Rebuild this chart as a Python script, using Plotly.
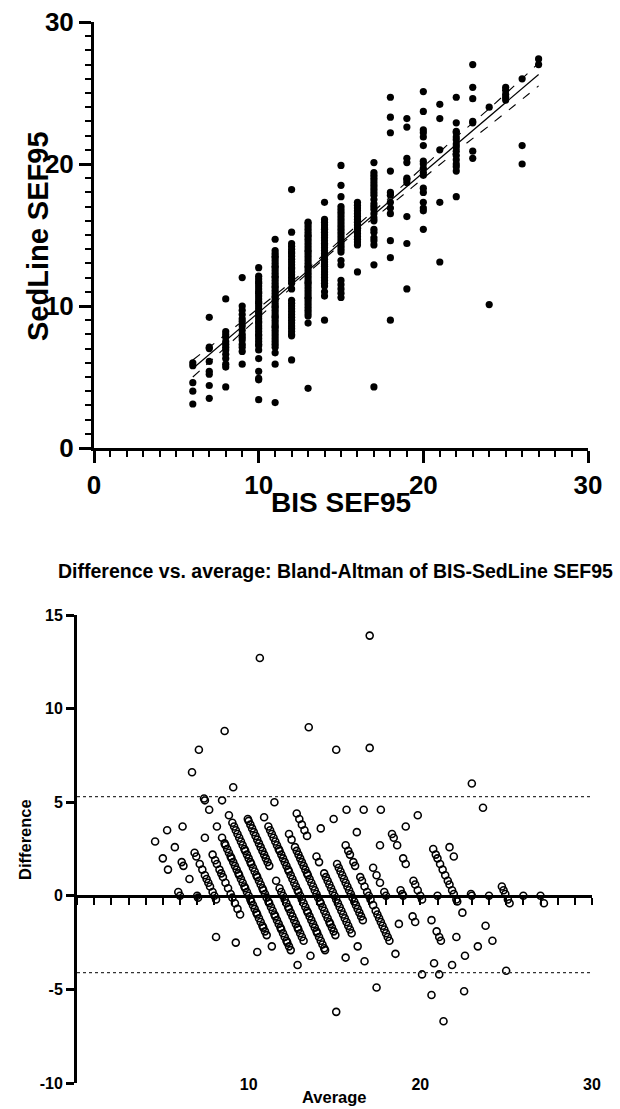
import numpy as np
import plotly.graph_objects as go

# ---- Data (BIS SEF95 column -> SedLine SEF95 values) ----
sed_bis06 = [6.0, 5.8, 4.6, 4.0, 3.1]
sed_bis07 = [9.2, 7.1, 7.0, 6.1, 5.4, 5.2, 4.4, 3.5]
sed_bis08 = [10.5, 8.2, 8.0, 7.8, 7.5, 7.3, 7.1, 6.9, 6.6, 6.3, 5.9, 5.7, 4.3]
sed_bis09 = [12.0, 10.0, 9.7, 9.4, 9.1, 8.9, 8.6, 8.3, 8.0, 7.8, 7.6, 7.3, 7.1, 6.8, 5.9]
sed_bis10 = [12.7, 12.1, 11.9, 11.7, 11.6, 11.4, 11.2, 11.0, 10.9, 10.7, 10.5, 10.3, 10.2,
             10.0, 9.8, 9.6, 9.5, 9.3, 9.1, 8.9, 8.8, 8.6, 8.4, 8.2, 8.0, 7.9, 7.7, 7.5,
             7.3, 7.2, 6.9, 6.3, 5.4, 4.9, 4.8, 3.4]
sed_bis11 = [14.7, 13.9, 13.7, 13.5, 13.4, 13.2, 13.0, 12.8, 12.7, 12.5, 12.3, 12.1, 12.0,
             11.8, 11.6, 11.4, 11.3, 11.1, 10.9, 10.7, 10.6, 10.4, 10.2, 10.0, 9.9, 9.7,
             9.5, 9.3, 9.2, 9.0, 8.8, 8.6, 8.5, 8.3, 8.1, 7.9, 7.7, 7.5, 7.3, 7.1, 6.7,
             5.9, 3.2]
sed_bis12 = [18.2, 15.2, 14.4, 14.2, 14.0, 13.8, 13.7, 13.5, 13.3, 13.1, 12.9, 12.7, 12.6,
             12.4, 12.2, 12.0, 11.8, 11.6, 11.2, 10.4, 10.2, 10.0, 9.8, 9.6, 9.4, 9.2,
             9.0, 8.8, 8.6, 8.4, 8.2, 8.0, 7.9, 6.2]
sed_bis13 = [15.9, 15.8, 15.6, 15.4, 15.2, 15.0, 14.9, 14.7, 14.5, 14.3, 14.1, 13.9, 13.8,
             13.6, 13.4, 13.2, 13.0, 12.8, 12.7, 12.5, 12.3, 12.1, 11.9, 11.7, 11.6, 11.4,
             11.2, 11.0, 10.8, 10.6, 10.5, 10.3, 10.1, 9.9, 9.7, 9.5, 9.3, 8.8, 4.2]
sed_bis14 = [17.3, 16.1, 15.9, 15.7, 15.5, 15.4, 15.2, 15.0, 14.8, 14.6, 14.4, 14.3, 14.1,
             13.9, 13.7, 13.5, 13.3, 13.1, 12.9, 12.8, 12.6, 12.4, 12.2, 12.0, 11.8, 11.6,
             11.4, 11.0, 10.7, 9.0]
sed_bis15 = [19.9, 18.5, 17.7, 17.0, 16.8, 16.6, 16.4, 16.2, 16.0, 15.8, 15.6, 15.4, 15.2,
             15.0, 14.8, 14.6, 14.4, 14.2, 14.0, 13.8, 13.2, 12.9, 11.8, 11.5, 11.2, 10.9,
             10.6]
sed_bis16 = [17.3, 17.1, 16.9, 16.7, 16.5, 16.3, 16.1, 15.9, 15.7, 15.5, 15.3, 15.1, 14.9,
             14.7, 14.5, 14.3, 12.4]
sed_bis17 = [20.1, 19.4, 19.2, 19.0, 18.8, 18.6, 18.4, 18.2, 18.0, 17.8, 17.5, 17.2, 17.0,
             16.8, 16.5, 16.2, 16.0, 15.4, 15.2, 14.8, 14.6, 14.3, 12.9, 4.3]
sed_bis18 = [24.7, 23.3, 22.2, 19.5, 18.0, 17.8, 17.3, 16.9, 16.5, 14.6, 13.4, 9.0]
sed_bis19 = [23.2, 22.6, 20.4, 20.1, 19.0, 18.9, 18.7, 16.3, 14.4, 11.2]
sed_bis20 = [25.1, 23.7, 22.4, 22.2, 21.9, 21.3, 20.2, 20.0, 19.7, 19.4, 19.2, 18.3, 18.0,
             17.3, 16.9, 16.7, 15.4]
sed_bis21 = [24.2, 23.2, 21.0, 17.3, 13.1]
sed_bis22 = [24.7, 22.9, 22.3, 22.2, 21.9, 21.7, 21.4, 21.2, 20.9, 20.6, 20.3, 20.0, 19.8,
             19.5, 17.7]
sed_bis23 = [27.0, 25.4, 24.6, 23.0, 22.9, 20.9, 20.4]
sed_bis24 = [24.0, 10.1]
sed_bis25 = [25.4, 25.2, 24.9, 24.7, 24.5]
sed_bis26 = [26.0, 21.3, 20.0]
sed_bis27 = [27.4, 27.0]

bis_levels = [6, 7, 8, 9, 10, 11, 12, 13, 14, 15, 16, 17, 18, 19, 20, 21, 22, 23, 24, 25, 26, 27]
sed_columns = [sed_bis06, sed_bis07, sed_bis08, sed_bis09, sed_bis10, sed_bis11, sed_bis12,
               sed_bis13, sed_bis14, sed_bis15, sed_bis16, sed_bis17, sed_bis18, sed_bis19,
               sed_bis20, sed_bis21, sed_bis22, sed_bis23, sed_bis24, sed_bis25, sed_bis26,
               sed_bis27]

# Regression line and 95% confidence band
fit_x = [6, 27]
fit_y = [5.6, 26.3]
band_x = [6, 8, 10, 12, 14, 16, 18, 20, 22, 24, 27]
band_upper = [6.2, 8.0, 9.85, 11.7, 13.65, 15.7, 17.7, 19.8, 21.9, 23.9, 27.1]
band_lower = [5.0, 7.1, 9.2, 11.3, 13.35, 15.3, 17.1, 19.0, 20.9, 22.7, 25.5]

# Bland-Altman limits of agreement
loa_upper = 5.3
loa_lower = -4.1

ba_xticks = [10, 20, 30]
ba_yticks = [-10, -5, 0, 5, 10, 15]
ba_yticktext = ["-10", "-5", "0", "5", "10", "15"]

# ---- derived arrays ----
bis = np.concatenate([[b] * len(c) for b, c in zip(bis_levels, sed_columns)]).astype(float)
sed = np.concatenate(sed_columns).astype(float)
ba_avg = (bis + sed) / 2.0
ba_diff = bis - sed

W, H = 620, 1109
FONT = "Liberation Sans, Arial, sans-serif"


def px_x(p):
    return p / W


def px_y(p):
    return 1 - p / H


fig = go.Figure()

# Top scatter
fig.add_trace(go.Scatter(x=bis, y=sed, mode="markers", xaxis="x", yaxis="y",
                         marker=dict(symbol="circle", size=7.2, color="black"),
                         showlegend=False, hoverinfo="skip"))
fig.add_trace(go.Scatter(x=band_x, y=band_upper, mode="lines", xaxis="x", yaxis="y",
                         line=dict(color="black", width=1.1, dash="dash", shape="spline"),
                         showlegend=False, hoverinfo="skip"))
fig.add_trace(go.Scatter(x=band_x, y=band_lower, mode="lines", xaxis="x", yaxis="y",
                         line=dict(color="black", width=1.1, dash="dash", shape="spline"),
                         showlegend=False, hoverinfo="skip"))
fig.add_trace(go.Scatter(x=fit_x, y=fit_y, mode="lines", xaxis="x", yaxis="y",
                         line=dict(color="black", width=1.2),
                         showlegend=False, hoverinfo="skip"))

# Bland-Altman
ba_range = [0, 30]
fig.add_trace(go.Scatter(x=ba_range, y=[loa_upper, loa_upper], mode="lines", xaxis="x3", yaxis="y2",
                         line=dict(color="#333", width=1.3, dash="dot"),
                         showlegend=False, hoverinfo="skip"))
fig.add_trace(go.Scatter(x=ba_range, y=[loa_lower, loa_lower], mode="lines", xaxis="x3", yaxis="y2",
                         line=dict(color="#333", width=1.3, dash="dot"),
                         showlegend=False, hoverinfo="skip"))
fig.add_trace(go.Scatter(x=ba_avg, y=ba_diff, mode="markers", xaxis="x2", yaxis="y2",
                         marker=dict(symbol="circle-open", size=7, color="black",
                                     line=dict(width=1.6, color="black")),
                         showlegend=False, hoverinfo="skip"))

top_dom_x = [px_x(94), px_x(588)]
top_dom_y = [px_y(448), px_y(22)]
ba_dom_x = [px_x(77), px_x(592)]
ba_dom_y = [px_y(1083), px_y(615)]
zero_pos = ba_dom_y[0] + (0 - (-10)) / 25 * (ba_dom_y[1] - ba_dom_y[0])

tick_font_top = dict(family=FONT, size=26, color="black", weight="bold")
tick_font_ba = dict(family=FONT, size=16, color="black", weight="bold")

fig.update_layout(
    width=W, height=H,
    margin=dict(l=0, r=0, t=0, b=0),
    paper_bgcolor="white", plot_bgcolor="white",
    showlegend=False,
    xaxis=dict(domain=top_dom_x, range=[0, 30], anchor="y",
               showline=True, linewidth=3, linecolor="black", mirror=False,
               ticks="outside", tick0=0, dtick=10, ticklen=12, tickwidth=3, tickcolor="black",
               minor=dict(ticks="outside", tick0=0, dtick=1, ticklen=6, tickwidth=2, tickcolor="black"),
               showgrid=False, zeroline=False, tickfont=tick_font_top, automargin=False),
    yaxis=dict(domain=top_dom_y, range=[0, 30], anchor="x",
               showline=True, linewidth=3, linecolor="black",
               ticks="outside", tick0=0, dtick=10, ticklen=12, tickwidth=3, tickcolor="black",
               minor=dict(ticks="outside", tick0=0, dtick=1, ticklen=6, tickwidth=2, tickcolor="black"),
               showgrid=False, zeroline=False, tickfont=tick_font_top, automargin=False),
    xaxis2=dict(domain=ba_dom_x, range=ba_range, anchor="free", position=px_y(1073),
                showline=False, ticks="", tickvals=ba_xticks, showgrid=False, zeroline=False,
                tickfont=tick_font_ba, automargin=False),
    xaxis3=dict(domain=ba_dom_x, range=ba_range, overlaying="x2", anchor="free", position=zero_pos,
                showline=True, linewidth=3, linecolor="black",
                ticks="outside", tick0=0, dtick=1, ticklen=7, tickwidth=2, tickcolor="black",
                showticklabels=False, showgrid=False, zeroline=False, automargin=False),
    yaxis2=dict(domain=ba_dom_y, range=[-10, 15], anchor="x2",
                showline=True, linewidth=3, linecolor="black",
                ticks="outside", tickvals=ba_yticks, ticktext=ba_yticktext,
                ticklen=8, tickwidth=2.5, tickcolor="black",
                showgrid=False, zeroline=False, tickfont=tick_font_ba, automargin=False),
    annotations=[
        dict(text="SedLine SEF95", x=px_x(38), y=px_y(236), xref="paper", yref="paper",
             textangle=-90, showarrow=False, xanchor="center", yanchor="middle",
             font=dict(family=FONT, size=29, color="black", weight="bold")),
        dict(text="BIS SEF95", x=px_x(341), y=px_y(502), xref="paper", yref="paper",
             showarrow=False, xanchor="center", yanchor="middle",
             font=dict(family=FONT, size=28, color="black", weight="bold")),
        dict(text="Difference vs. average: Bland-Altman of BIS-SedLine SEF95",
             x=px_x(335), y=px_y(571), xref="paper", yref="paper",
             showarrow=False, xanchor="center", yanchor="middle",
             font=dict(family=FONT, size=19.5, color="black", weight="bold")),
        dict(text="Difference", x=px_x(25), y=px_y(840), xref="paper", yref="paper",
             textangle=-90, showarrow=False, xanchor="center", yanchor="middle",
             font=dict(family=FONT, size=16.5, color="black", weight="bold")),
        dict(text="Average", x=px_x(334), y=px_y(1097), xref="paper", yref="paper",
             showarrow=False, xanchor="center", yanchor="middle",
             font=dict(family=FONT, size=16.5, color="black", weight="bold")),
    ],
)

fig.write_html("out.html", config={"displayModeBar": False},
               post_script="document.body.style.margin='0';")
